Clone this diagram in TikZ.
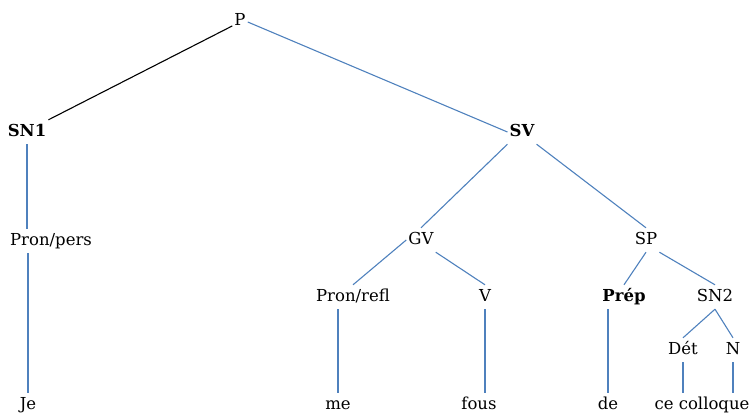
\documentclass[tikz,border=0pt]{standalone}
\usepackage{fontspec}
\setmainfont{DejaVu Serif}
\usepackage{xcolor}
\usepackage{tikz}
\definecolor{treeblue}{RGB}{79,129,189}

\begin{document}
\begin{tikzpicture}[x=1pt, y=-1pt,
        cat/.style={anchor=base, inner xsep=2pt, inner ysep=4pt, text height=12pt, text depth=4pt, font=\fontsize{16.5}{18}\selectfont},
        head/.style={cat, font=\fontsize{16.5}{18}\selectfont\bfseries},
        branch/.style={treeblue, line width=1.1pt}]
        \useasboundingbox (0,0) rectangle (749,412);

        \node[cat]  (P)     at (240,26)  {P};
        \node[head] (SN1)   at (27,136)  {SN1};
        \node[head] (SV)    at (522,136) {SV};
        \node[cat]  (Ppers) at (51,245)  {Pron/pers};
        \node[cat]  (GV)    at (421,244) {GV};
        \node[cat]  (SP)    at (646,244) {SP};
        \node[cat]  (Prefl) at (353,301) {Pron/refl};
        \node[cat]  (V)     at (485,301) {V};
        \node[head] (Prep)  at (624,301) {Prép};
        \node[cat]  (SN2)   at (715,301) {SN2};
        \node[cat]  (Det)   at (683,354) {Dét};
        \node[cat]  (N)     at (733,354) {N};
        \node[cat]  (Je)    at (28,409)  {Je};
        \node[cat]  (me)    at (338,409) {me};
        \node[cat]  (fous)  at (479,409) {fous};
        \node[cat]  (de)    at (608,409) {de};
        \node[cat]  (ccq)   at (702,409) {ce colloque};

        \draw[line width=1.1pt] (P) -- (SN1.north east);

        \path[branch]
        (P.east) edge (SV.west)
        (SV.south west) edge (GV.north)
        (SV.south east) edge (SP.north)
        (GV.west) edge (Prefl.north)
        (GV.south east) edge (V.north)
        (SP.south) edge (Prep.north)
        (SP.south east) edge (SN2.north)
        (SN2.south) edge (Det.north)
        (SN2.south) edge (N.north);

        \draw[branch] (SN1) -- (SN1 |- Ppers.north);
        \draw[branch] (Ppers.south -| Je) -- (Je);
        \draw[branch] (Prefl.south -| me) -- (me);
        \draw[branch] (V) -- (V |- fous.north);
        \draw[branch] (Prep.south -| de) -- (de);
        \draw[branch] (Det) -- (Det |- ccq.north);
        \draw[branch] (N) -- (N |- ccq.north);
\end{tikzpicture}
\end{document}
